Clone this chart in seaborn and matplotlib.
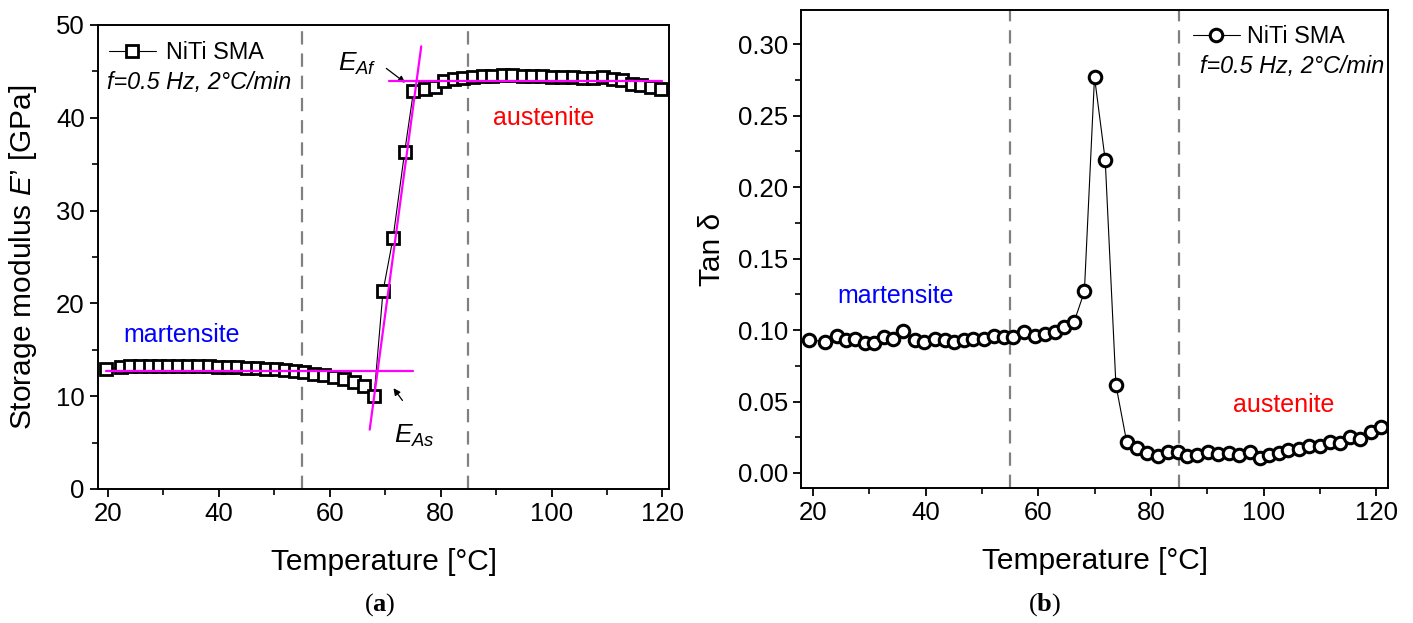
import numpy as np
import pandas as pd
import matplotlib
matplotlib.use('Agg')
import matplotlib.pyplot as plt
import seaborn as sns
from matplotlib.ticker import MultipleLocator

# ---- data (a): storage modulus ----
temp_a = [19.7, 22.3, 24.0, 25.7, 27.5, 29.2, 30.9, 32.6, 34.5, 36.3, 38.2, 39.9, 41.6, 43.3,
          45.1, 46.8, 48.5, 50.3, 52.0, 53.7, 55.4, 57.2, 58.9, 60.8, 62.5, 64.4, 66.1, 68.0,
          69.6, 71.4, 73.5, 75.1, 77.1, 78.9, 80.6, 82.4, 84.1, 85.8, 87.6, 89.3, 91.2, 92.9,
          94.8, 96.5, 98.3, 100.1, 101.9, 103.8, 105.7, 107.4, 109.3, 111.0, 112.8, 114.5,
          116.2, 118.0, 119.7]
modulus_a = [12.95, 13.1, 13.2, 13.2, 13.2, 13.24, 13.24, 13.24, 13.24, 13.24, 13.24, 13.1, 13.1,
             13.1, 13.06, 13.0, 12.95, 12.9, 12.84, 12.7, 12.6, 12.34, 12.23, 12.05, 11.87, 11.58,
             11.15, 10.07, 21.3, 27.0, 36.3, 42.88, 43.13, 43.35, 43.92, 44.14, 44.24, 44.42,
             44.5, 44.5, 44.57, 44.57, 44.5, 44.5, 44.5, 44.42, 44.42, 44.35, 44.28, 44.28,
             44.35, 44.14, 44.06, 43.6, 43.5, 43.35, 43.13]

# tangent construction lines (magenta)
fit_low_x = [19.7, 75.0]
fit_low_y = [12.75, 12.75]
fit_high_x = [70.6, 120.0]
fit_high_y = [43.96, 43.96]
fit_steep_x = [67.2, 76.5]
fit_steep_y = [6.4, 47.7]

# ---- data (b): tan delta ----
temp_b = [19.4, 22.1, 24.3, 25.8, 27.5, 29.2, 30.8, 32.6, 34.3, 36.0, 38.1, 39.8, 41.6, 43.4,
          45.1, 46.8, 48.5, 50.3, 52.1, 53.9, 55.6, 57.5, 59.4, 61.2, 62.9, 64.6, 66.4, 68.2,
          70.0, 71.9, 73.8, 75.7, 77.5, 79.3, 81.2, 83.1, 84.8, 86.5, 88.2, 90.1, 91.9, 93.8,
          95.7, 97.6, 99.3, 101.0, 102.7, 104.4, 106.3, 108.1, 110.0, 111.8, 113.5, 115.4,
          117.1, 119.0, 120.8]
tan_b = [0.093, 0.092, 0.096, 0.093, 0.094, 0.091, 0.091, 0.095, 0.094, 0.0995, 0.093, 0.092,
         0.094, 0.093, 0.092, 0.093, 0.0935, 0.0935, 0.096, 0.095, 0.0953, 0.099, 0.096, 0.097,
         0.099, 0.102, 0.106, 0.127, 0.277, 0.219, 0.0616, 0.022, 0.0174, 0.014, 0.0116,
         0.0147, 0.0147, 0.012, 0.0123, 0.0147, 0.0135, 0.014, 0.0123, 0.015, 0.0105, 0.0128,
         0.014, 0.0163, 0.0167, 0.019, 0.0186, 0.0214, 0.021, 0.0249, 0.0237, 0.029, 0.032]

phase_bounds = [55, 85]
xticks = [20, 40, 60, 80, 100, 120]

df_a = pd.DataFrame({'T': temp_a, 'E': modulus_a})
df_b = pd.DataFrame({'T': temp_b, 'tan': tan_b})

sns.set_style('ticks')
plt.rcParams['font.family'] = ['Liberation Sans', 'DejaVu Sans']
plt.rcParams['mathtext.fontset'] = 'custom'
plt.rcParams['mathtext.it'] = 'Liberation Sans:italic'
plt.rcParams['mathtext.rm'] = 'Liberation Sans'
plt.rcParams['mathtext.bf'] = 'Liberation Serif:bold'
for k in ['text.color', 'axes.labelcolor', 'xtick.color', 'ytick.color', 'axes.edgecolor']:
    plt.rcParams[k] = 'black'

fig = plt.figure(figsize=(14.13, 6.23), dpi=100)
ax1 = fig.add_axes([0.0694, 0.2151, 0.4041, 0.7448])
ax2 = fig.add_axes([0.5669, 0.2167, 0.4154, 0.7673])

TICK_FS = 18.5
LABEL_FS = 21.5
LEG_FS = 16.8
PHASE_FS = 18

def style_axes(ax):
    for s in ax.spines.values():
        s.set_visible(True)
        s.set_color('black')
        s.set_linewidth(1.4)
    ax.tick_params(axis='both', which='major', direction='out', length=6, width=1.3,
                   labelsize=TICK_FS, colors='black', top=False, right=False)
    ax.tick_params(axis='both', which='minor', direction='out', length=4, width=1.2,
                   top=False, right=False)
    ax.set_xticks(xticks)
    ax.xaxis.set_minor_locator(MultipleLocator(10))
    for b in phase_bounds:
        ax.axvline(b, color='#808080', lw=1.6, dashes=(6, 4), zorder=1)

# ---- panel (a) ----
sns.lineplot(data=df_a, x='T', y='E', ax=ax1, color='black', lw=0.8, marker='s',
             markersize=8, markerfacecolor='white', markeredgecolor='black',
             markeredgewidth=2.0, label='NiTi SMA', zorder=3)
ax1.plot(fit_low_x, fit_low_y, color='#ff00ff', lw=1.6, zorder=4)
ax1.plot(fit_high_x, fit_high_y, color='#ff00ff', lw=1.6, zorder=4)
ax1.plot(fit_steep_x, fit_steep_y, color='#ff00ff', lw=1.6, zorder=4)
ax1.set_xlim(18.2, 121.2)
ax1.set_ylim(0, 50)
ax1.set_yticks([0, 10, 20, 30, 40, 50])
ax1.yaxis.set_minor_locator(MultipleLocator(5))
style_axes(ax1)
ax1.set_xlabel('Temperature [°C]', fontsize=LABEL_FS, labelpad=16)
ax1.set_ylabel('Storage modulus $E$’ [GPa]', fontsize=LABEL_FS, labelpad=12)
leg1 = ax1.legend(loc='center left', bbox_to_anchor=(0.019, 0.94), frameon=False,
                  fontsize=LEG_FS, handlelength=2.0, handletextpad=0.45,
                  borderpad=0, borderaxespad=0)
ax1.text(0.016, 0.875, 'f=0.5 Hz, 2°C/min', transform=ax1.transAxes, fontsize=LEG_FS,
         style='italic', ha='left', va='center')
ax1.text(22.7, 16.6, 'martensite', color='blue', fontsize=PHASE_FS, ha='left', va='center')
ax1.text(89.5, 40.0, 'austenite', color='red', fontsize=PHASE_FS, ha='left', va='center')
ax1.text(61.5, 45.8, '$E_{Af}$', fontsize=19, ha='left', va='center')
ax1.annotate('', xy=(74.0, 43.6), xytext=(69.8, 45.5),
             arrowprops=dict(arrowstyle='-|>', color='black', lw=0.9, mutation_scale=10))
ax1.text(71.5, 5.7, '$E_{As}$', fontsize=19, ha='left', va='center')
ax1.annotate('', xy=(71.2, 11.1), xytext=(73.4, 9.3),
             arrowprops=dict(arrowstyle='-|>', color='black', lw=0.9, mutation_scale=10))

# ---- panel (b) ----
sns.lineplot(data=df_b, x='T', y='tan', ax=ax2, color='black', lw=0.8, marker='o',
             markersize=9, markerfacecolor='white', markeredgecolor='black',
             markeredgewidth=2.2, label='NiTi SMA', zorder=3)
ax2.set_xlim(17.9, 122.1)
ax2.set_ylim(-0.0105, 0.324)
ax2.set_yticks([0.0, 0.05, 0.10, 0.15, 0.20, 0.25, 0.30])
ax2.set_yticklabels(['0.00', '0.05', '0.10', '0.15', '0.20', '0.25', '0.30'])
ax2.yaxis.set_minor_locator(MultipleLocator(0.025))
style_axes(ax2)
ax2.set_xlabel('Temperature [°C]', fontsize=LABEL_FS, labelpad=16)
ax2.set_ylabel('Tan δ', fontsize=LABEL_FS, labelpad=8)
leg2 = ax2.legend(loc='center left', bbox_to_anchor=(0.668, 0.944), frameon=False,
                  fontsize=LEG_FS, handlelength=2.0, handletextpad=0.3,
                  borderpad=0, borderaxespad=0)
ax2.text(0.993, 0.881, 'f=0.5 Hz, 2°C/min', transform=ax2.transAxes, fontsize=LEG_FS,
         style='italic', ha='right', va='center')
ax2.text(24.4, 0.124, 'martensite', color='blue', fontsize=PHASE_FS, ha='left', va='center')
ax2.text(94.6, 0.0475, 'austenite', color='red', fontsize=PHASE_FS, ha='left', va='center')

# captions
fig.text(380 / 1413, 1 - 605 / 623, r'($\mathbf{a}$)', family='Liberation Serif',
         fontsize=19, ha='center', va='center')
fig.text(1045 / 1413, 1 - 605 / 623, r'($\mathbf{b}$)', family='Liberation Serif',
         fontsize=19, ha='center', va='center')

fig.savefig('out.png', dpi=100)
